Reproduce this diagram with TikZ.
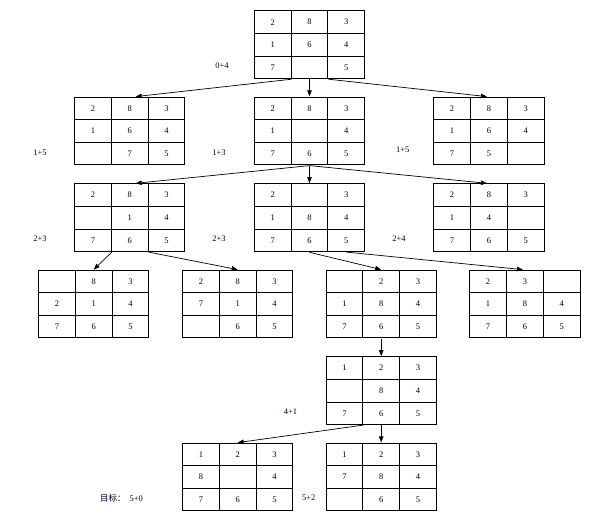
\documentclass[tikz,border=0pt]{standalone}
\usepackage{fontspec}
\setmainfont{Liberation Serif}
\newfontfamily\cjk{Noto Sans CJK SC}
\usetikzlibrary{matrix,arrows.meta}
\begin{document}
\begin{tikzpicture}[x=1pt,y=-1pt,
  puzzle/.style={matrix of nodes, nodes in empty cells, column sep=-1pt, row sep=-1pt, inner sep=0pt,
    nodes={draw, line width=1pt, minimum width=36.8pt, minimum height=22.6pt, inner sep=0pt,
      font=\fontsize{8.5}{10}\selectfont, anchor=center}},
  arr/.style={line width=0.7pt, -{Triangle[length=6pt,width=4.5pt]}},
  lab/.style={font=\fontsize{8.5}{10}\selectfont, text=black!85!blue}]
\useasboundingbox (0,0) rectangle (602,522);

% level 0
\matrix (r) [puzzle] at (309.5,44.8) {2 & 8 & 3\\ 1 & 6 & 4\\ 7 & & 5\\};
% level 1
\matrix (a1) [puzzle] at (129.7,131) {2 & 8 & 3\\ 1 & 6 & 4\\ & 7 & 5\\};
\matrix (a2) [puzzle] at (309.5,131) {2 & 8 & 3\\ 1 & & 4\\ 7 & 6 & 5\\};
\matrix (a3) [puzzle] at (488.9,131) {2 & 8 & 3\\ 1 & 6 & 4\\ 7 & 5 & \\};
% level 2
\matrix (b1) [puzzle] at (129.7,217.7) {2 & 8 & 3\\ & 1 & 4\\ 7 & 6 & 5\\};
\matrix (b2) [puzzle] at (309.5,217.7) {2 & & 3\\ 1 & 8 & 4\\ 7 & 6 & 5\\};
\matrix (b3) [puzzle] at (488.9,217.7) {2 & 8 & 3\\ 1 & 4 & \\ 7 & 6 & 5\\};
% level 3
\matrix (c1) [puzzle] at (93.7,304) { & 8 & 3\\ 2 & 1 & 4\\ 7 & 6 & 5\\};
\matrix (c2) [puzzle] at (237.7,304) {2 & 8 & 3\\ 7 & 1 & 4\\ & 6 & 5\\};
\matrix (c3) [puzzle] at (381.2,304) { & 2 & 3\\ 1 & 8 & 4\\ 7 & 6 & 5\\};
\matrix (c4) [puzzle] at (524.9,304) {2 & 3 & \\ 1 & 8 & 4\\ 7 & 6 & 5\\};
% level 4
\matrix (d) [puzzle] at (381.2,390.7) {1 & 2 & 3\\ & 8 & 4\\ 7 & 6 & 5\\};
% level 5
\matrix (e1) [puzzle] at (237.7,477) {1 & 2 & 3\\ 8 & & 4\\ 7 & 6 & 5\\};
\matrix (e2) [puzzle] at (381.2,477) {1 & 2 & 3\\ 7 & 8 & 4\\ & 6 & 5\\};

% labels
\node[lab] (l0) at (222,65.7) {0+4};
\node[lab] (l1a) at (40,152.7) {1+5};
\node[lab] (l1b) at (219,152.7) {1+3};
\node[lab] (l1c) at (402.7,149.7) {1+5};
\node[lab] (l2a) at (40,238.7) {2+3};
\node[lab] (l2b) at (219,238.7) {2+3};
\node[lab] (l2c) at (399,238.7) {2+4};
\node[lab] (l4) at (290.4,411.7) {4+1};
\node[lab] (l5a) at (121.5,498.7) {{\cjk 目标：}\hspace{4pt}5+0};
\node[lab] (l5b) at (308.8,497.7) {5+2};

% connectors
\draw[arr] (r-3-1.south east) -- ([xshift=6pt]a1-1-2.north);
\draw[arr] (r.south) -- (a2.north);
\draw[arr] (r-3-2.south east) -- ([xshift=-2pt]a3-1-2.north);
\draw[arr] (a2.south) -- ([xshift=6pt]b1-1-2.north);
\draw[arr] (a2.south) -- (b2.north);
\draw[arr] (a2.south) -- ([xshift=-2pt]b3-1-2.north);
\draw[arr] (b1-3-1.south east) -- (c1-1-2.north);
\draw[arr] (b1-3-2.south east) -- (c2-1-2.north);
\draw[arr] (b2.south) -- (c3-1-2.north);
\draw[arr] (b2-3-3.south) -- ([xshift=-2pt]c4-1-2.north);
\draw[arr] (c3.south) -- (d.north);
\draw[arr] (d-3-1.south east) -- (e1-1-2.north);
\draw[arr] (d.south) -- (e2.north);
\end{tikzpicture}
\end{document}
